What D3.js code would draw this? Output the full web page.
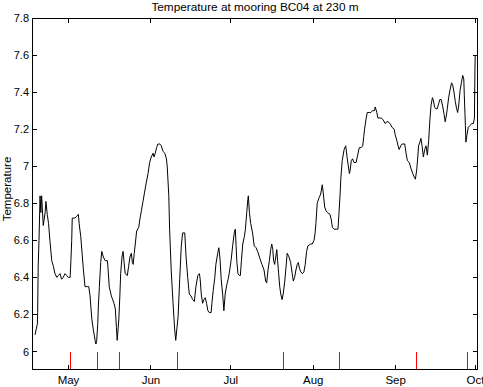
<!DOCTYPE html>
<html>
<head>
<meta charset="utf-8">
<script src="https://cdn.jsdelivr.net/npm/d3@7"></script>
<style>
  html, body { margin: 0; padding: 0; background: #fff; }
  svg text { font-family: "Liberation Sans", Arial, Helvetica, sans-serif; }
</style>
</head>
<body>
<svg id="chart" width="483" height="387"></svg>
<script>
// ---- data (days since 1 May, temperature) ----
const title = "Temperature at mooring BC04 at 230 m";
const yLabel = "Temperature";
const dayOffsets = [
-12.4,-11.5,-11.4,-11.2,-10.9,-10.5,-10.2,-9.9,-9.3,-8.6,-8.3,-7.8,-7.3,-6.8,-6.1,-5.5,-4.9,-4.2,-3.6,-3.0,
-2.4,-1.8,-1.1,-0.5,0.1,0.8,1.1,1.4,1.6,2.6,3.3,3.9,4.2,4.8,5.3,5.8,6.4,7.3,7.8,8.3,
8.6,9.0,9.5,10.2,10.5,10.8,11.2,11.4,11.8,12.3,12.7,13.3,14.0,14.8,15.0,15.5,16.3,17.3,17.8,18.2,
18.5,19.1,19.5,19.8,20.3,20.7,21.1,21.5,22.3,22.8,23.3,23.8,24.2,24.5,24.9,25.3,25.8,26.6,27.1,27.6,
28.2,28.8,29.4,30.1,30.7,31.3,32.0,32.3,32.8,33.3,33.8,34.5,35.1,35.7,36.4,37.0,37.3,37.9,38.2,38.8,
39.5,40.1,40.5,41.4,42.0,42.6,43.1,43.9,44.4,45.0,45.6,46.2,46.9,47.5,48.1,48.8,49.4,49.7,50.1,50.6,
51.1,51.6,52.1,52.6,53.1,53.8,54.1,54.6,55.2,55.6,56.3,56.7,57.1,57.6,58.2,58.6,59.1,59.7,60.2,60.6,
61.3,61.9,62.5,62.9,63.2,63.5,63.9,64.4,64.8,65.2,65.7,66.3,66.7,67.2,67.6,67.8,68.2,68.7,69.4,70.0,
70.7,71.3,72.2,72.9,73.7,74.3,74.7,75.2,75.7,76.2,76.6,77.0,77.3,77.7,78.1,78.5,78.8,79.2,79.6,80.0,
80.5,80.9,81.5,82.0,82.4,83.1,83.7,84.3,84.7,85.2,85.7,86.2,86.6,87.0,87.5,88.1,88.7,89.2,89.7,90.2,
91.2,91.8,92.5,92.9,93.2,93.7,94.4,95.0,95.6,96.0,96.5,97.0,97.5,98.5,99.0,99.4,100.0,101.0,101.5,101.9,
102.3,102.6,103.1,103.8,104.4,105.0,105.8,106.1,106.5,107.0,107.5,108.3,108.9,109.5,110.2,110.8,111.2,111.5,112.0,112.5,
113.3,113.9,114.5,115.2,115.5,116.1,116.5,117.8,118.5,119.3,119.8,120.3,121.1,121.8,122.6,123.0,123.6,124.1,124.5,125.1,
125.6,126.6,127.1,127.6,128.3,128.9,129.6,130.2,130.6,131.1,131.5,131.8,132.3,132.7,133.1,133.6,134.1,134.6,135.1,135.6,
136.1,136.5,137.0,137.3,137.8,138.3,138.8,139.4,139.8,140.3,140.9,141.4,141.8,142.2,142.6,143.1,143.6,144.2,144.6,145.1,
145.6,146.1,146.5,146.9,147.4,147.9,148.4,148.8,149.0,149.4,149.6,150.0,150.5,151.1,151.8,152.4,152.8,152.9,153.0,153.1
];
const temperatures = [
6.09,6.15,6.21,6.46,6.60,6.84,6.75,6.84,6.68,6.75,6.81,6.74,6.69,6.60,6.49,6.46,6.42,6.40,6.41,6.42,
6.39,6.40,6.42,6.41,6.40,6.40,6.49,6.60,6.72,6.72,6.73,6.74,6.69,6.62,6.53,6.44,6.35,6.35,6.35,6.30,
6.24,6.17,6.12,6.06,6.04,6.06,6.15,6.24,6.35,6.48,6.54,6.51,6.49,6.49,6.46,6.35,6.30,6.26,6.23,6.13,
6.06,6.17,6.30,6.42,6.51,6.54,6.48,6.42,6.41,6.46,6.51,6.53,6.48,6.47,6.53,6.58,6.65,6.67,6.72,6.76,
6.81,6.86,6.91,6.96,7.02,7.05,7.07,7.05,7.07,7.10,7.12,7.12,7.11,7.08,7.07,7.04,7.00,6.84,6.66,6.44,
6.26,6.12,6.06,6.19,6.39,6.57,6.64,6.64,6.51,6.40,6.31,6.30,6.28,6.27,6.35,6.41,6.42,6.39,6.31,6.26,
6.28,6.29,6.26,6.22,6.21,6.21,6.26,6.33,6.40,6.47,6.53,6.56,6.51,6.39,6.30,6.22,6.31,6.36,6.39,6.42,
6.49,6.57,6.64,6.66,6.57,6.48,6.42,6.41,6.41,6.49,6.58,6.62,6.66,6.75,6.82,6.84,6.75,6.69,6.64,6.57,
6.56,6.54,6.50,6.47,6.44,6.38,6.37,6.44,6.49,6.55,6.58,6.55,6.49,6.47,6.51,6.55,6.49,6.42,6.35,6.31,
6.28,6.31,6.38,6.46,6.53,6.51,6.48,6.42,6.38,6.40,6.44,6.47,6.48,6.45,6.43,6.42,6.43,6.47,6.54,6.57,
6.58,6.58,6.60,6.64,6.69,6.80,6.83,6.85,6.90,6.85,6.78,6.76,6.75,6.74,6.71,6.67,6.66,6.66,6.66,6.75,
6.85,6.94,7.03,7.09,7.11,7.04,6.96,6.98,7.03,7.04,7.02,7.02,7.06,7.10,7.10,7.11,7.16,7.20,7.25,7.29,
7.29,7.29,7.30,7.30,7.32,7.29,7.26,7.26,7.25,7.23,7.24,7.24,7.23,7.21,7.20,7.17,7.14,7.11,7.09,7.11,
7.12,7.12,7.07,7.03,7.02,6.99,6.96,6.94,6.93,6.98,7.05,7.11,7.13,7.15,7.11,7.05,7.09,7.11,7.06,7.14,
7.26,7.33,7.37,7.36,7.32,7.31,7.31,7.34,7.36,7.36,7.32,7.28,7.24,7.27,7.31,7.37,7.41,7.45,7.44,7.40,
7.35,7.31,7.29,7.33,7.41,7.45,7.49,7.47,7.38,7.22,7.13,7.17,7.21,7.22,7.23,7.23,7.26,7.40,7.53,7.60
];
const markerDays = [0.9, 10.8, 19.0, 41.0, 80.8, 101.9, 130.8, 150.0];
const yTicks = [6, 6.2, 6.4, 6.6, 6.8, 7, 7.2, 7.4, 7.6, 7.8];
const monthLabels = ["May", "Jun", "Jul", "Aug", "Sep", "Oct"];

// ---- layout ----
const W = 483, H = 387;
const m = { left: 32, right: 5, top: 18, bottom: 17 };
const DAY = 864e5;
const may1 = Date.UTC(2003, 4, 1);
const toDate = d => new Date(may1 + d * DAY);

const svg = d3.select("#chart");
const x = d3.scaleUtc()
  .domain([toDate(-13.53), toDate(154.14)])
  .range([m.left, W - m.right]);
const y = d3.scaleLinear()
  .domain([5.9, 7.8])
  .range([H - m.bottom, m.top]);

const monthTicks = monthLabels.map((_, i) => new Date(Date.UTC(2003, 4 + i, 1)));

const fs = 11;

// axes
const gB = svg.append("g").attr("transform", `translate(0,${H - m.bottom})`)
  .call(d3.axisBottom(x).tickValues(monthTicks).tickFormat((d, i) => monthLabels[i])
    .tickSizeInner(-5).tickSizeOuter(0).tickPadding(6));
const gT = svg.append("g").attr("transform", `translate(0,${m.top})`)
  .call(d3.axisTop(x).tickValues(monthTicks).tickFormat("")
    .tickSizeInner(-5).tickSizeOuter(0));
const gL = svg.append("g").attr("transform", `translate(${m.left},0)`)
  .call(d3.axisLeft(y).tickValues(yTicks).tickFormat(d3.format("~g"))
    .tickSizeInner(-5).tickSizeOuter(0).tickPadding(3));
const gR = svg.append("g").attr("transform", `translate(${W - m.right},0)`)
  .call(d3.axisRight(y).tickValues(yTicks).tickFormat("")
    .tickSizeInner(-5).tickSizeOuter(0));

[gB, gT, gL, gR].forEach(g => {
  g.selectAll("path.domain").remove();
  g.selectAll("line").attr("stroke", "#000").attr("shape-rendering", "crispEdges");
  g.selectAll("text").attr("font-size", fs).attr("fill", "#000")
    .attr("font-family", "'Liberation Sans', Arial, sans-serif");
});
gB.selectAll("text").attr("font-size", 11.5);

// marker lines (red)
svg.append("g").selectAll("line").data(markerDays).join("line")
  .attr("x1", d => Math.round(x(toDate(d))) + 0.5)
  .attr("x2", d => Math.round(x(toDate(d))) + 0.5)
  .attr("y1", y(5.9))
  .attr("y2", y(5.997))
  .attr("stroke", "#ff0000").attr("stroke-width", 1)
  .attr("shape-rendering", "crispEdges");

// data line
const pts = dayOffsets.map((d, i) => ({ date: toDate(d), v: temperatures[i] }));
svg.append("path").datum(pts)
  .attr("fill", "none").attr("stroke", "#000").attr("stroke-width", 1)
  .attr("d", d3.line().x(p => x(p.date)).y(p => y(p.v)));

// frame
svg.append("rect")
  .attr("x", m.left + 0.5).attr("y", m.top + 0.5)
  .attr("width", W - m.left - m.right - 1).attr("height", H - m.top - m.bottom - 1)
  .attr("fill", "none").attr("stroke", "#000").attr("shape-rendering", "crispEdges");

// title
svg.append("text").attr("x", (m.left + W - m.right) / 2).attr("y", 10.5)
  .attr("text-anchor", "middle").attr("font-size", 11.8).text(title);

// y label
svg.append("text")
  .attr("transform", `translate(11,${(m.top + H - m.bottom) / 2 - 5}) rotate(-90)`)
  .attr("text-anchor", "middle").attr("font-size", 11.5).text(yLabel);
</script>
</body>
</html>
